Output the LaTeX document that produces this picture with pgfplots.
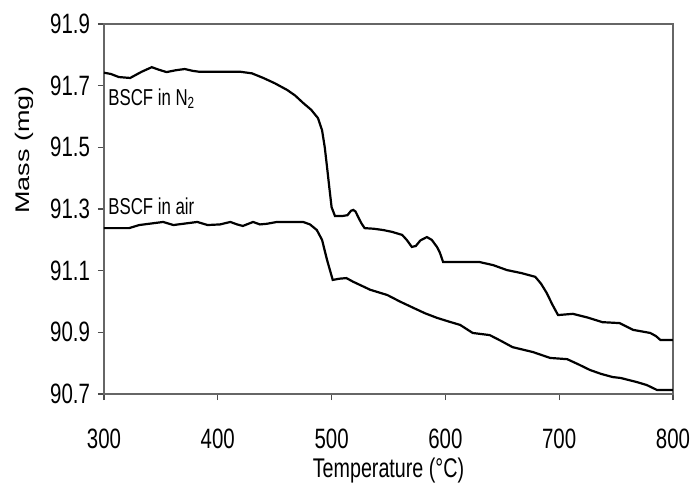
\documentclass[border=0pt]{standalone}
\usepackage{fontspec}
\setmainfont{Liberation Sans}
\newfontfamily\narrowfont[FakeStretch=0.73]{Liberation Sans}
\usepackage{graphicx}
\usepackage{pgfplots}
\pgfplotsset{compat=1.18}

\begin{document}
\begin{tikzpicture}
% fix the page to the reference's 693x484 px frame (1 px = 0.5pt)
\useasboundingbox (-52pt,-45pt) rectangle (294.5pt,197pt);
\begin{axis}[
    scale only axis,
    width=284.5pt, height=185pt,
    xmin=300, xmax=800, ymin=90.7, ymax=91.9,
    xtick={300,400,...,800},
    ytick={90.7,90.9,91.1,91.3,91.5,91.7,91.9},
    tick align=outside, major tick length=3pt,
    tick style={black!70, line width=0.6pt},
    xtick pos=bottom, ytick pos=left,
    axis line style={black!60, line width=0.8pt},
    /pgf/number format/assume math mode=true,
    tick label style={font=\narrowfont\fontsize{14}{16}\selectfont},
    yticklabel style={anchor=east, xshift=-0.5pt, /pgf/number format/.cd, fixed, precision=1, fixed zerofill},
    xticklabel style={anchor=center, inner sep=0pt, yshift=-19.5pt, /pgf/number format/.cd, fixed, 1000 sep={}},
    xlabel={\narrowfont\fontsize{13.5}{15}\selectfont Temperature (°C)},
    ylabel={\fontsize{13.5}{15}\selectfont\scalebox{1}[0.73]{Mass (mg)}},
    xlabel style={at={(axis description cs:0.5,-0.207)}, anchor=center, inner sep=0pt},
    ylabel style={at={(axis description cs:-0.1406,0.659)}, anchor=center},
]
% BSCF in N2
\addplot[black, line width=1.1pt] coordinates {
(300,91.742) (306,91.738) (313,91.728) (323,91.725) (333,91.745) (342,91.760)
(348,91.752) (355,91.744) (363,91.750) (371,91.754) (378,91.748) (384,91.745)
(400,91.745) (420,91.745) (430,91.740) (440,91.725) (450,91.708) (461,91.686)
(468,91.668) (475,91.644) (482,91.622) (488,91.595) (491.6,91.556) (494,91.50)
(496,91.436) (498,91.37) (500,91.306) (503,91.277) (509,91.277) (514,91.280)
(517,91.294) (519,91.297) (521,91.292) (523,91.277) (526,91.255) (529,91.238)
(537,91.236) (545,91.232) (553,91.226) (562,91.216) (566,91.200) (570.5,91.177)
(574,91.180) (578,91.198) (583.7,91.209) (588,91.200) (592.6,91.177) (595,91.160)
(598,91.128) (610,91.128) (630,91.128) (642,91.118) (654,91.102) (667,91.092)
(679,91.080) (684,91.058) (689,91.028) (694,90.99) (699,90.956) (712,90.96)
(725,90.948) (738,90.933) (753,90.93) (765,90.908) (780,90.898) (785,90.888)
(789,90.875) (800,90.875)
};
% BSCF in air
\addplot[black, line width=1.1pt] coordinates {
(300,91.238) (322,91.238) (331,91.248) (352,91.258) (361,91.248) (382,91.258)
(391,91.248) (402,91.250) (411,91.258) (417,91.250) (422,91.245) (431,91.258)
(437,91.250) (443,91.252) (452,91.258) (465,91.258) (475,91.258) (481,91.250)
(487,91.232) (491.6,91.200) (496,91.135) (501,91.070) (507,91.074) (513,91.076)
(519,91.064) (534,91.038) (549,91.021) (560,91.000) (571.5,90.980) (582,90.962)
(592.6,90.947) (603,90.935) (613,90.924) (624,90.898) (639,90.891) (649,90.872)
(659,90.852) (677,90.836) (692,90.817) (707,90.813) (717,90.796) (727,90.778)
(737,90.765) (747,90.755) (754,90.752) (768,90.739) (777,90.729) (786,90.713)
(800,90.713)
};
\node[anchor=north west, inner sep=0pt, font=\narrowfont\fontsize{11.5}{13}\selectfont]
    at (axis cs:303.5,91.692) {BSCF in N\textsubscript{2}};
\node[anchor=north west, inner sep=0pt, font=\narrowfont\fontsize{11.5}{13}\selectfont]
    at (axis cs:303.5,91.339) {BSCF in air};
\end{axis}
\end{tikzpicture}
\end{document}
